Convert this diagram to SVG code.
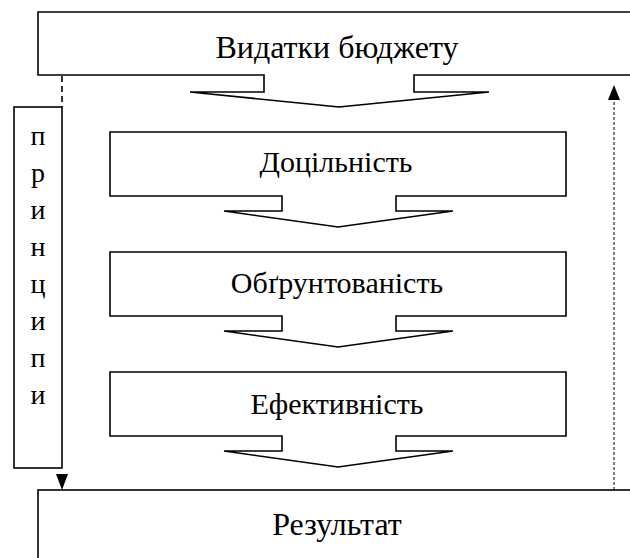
<svg xmlns="http://www.w3.org/2000/svg" width="630" height="558" viewBox="0 0 630 558">
  <defs>
    <style>
      .box { fill: #fff; stroke: #000; stroke-width: 1.6; }
      .lbl { font-family: "Liberation Serif", "DejaVu Serif", serif; font-size: 30px; fill: #000; text-anchor: middle; }
      .big { font-size: 32px; }
      .ltr { font-family: "Liberation Serif", "DejaVu Serif", serif; font-size: 28px; fill: #000; text-anchor: middle; }
      .dash { fill: none; stroke: #000; stroke-width: 1.6; stroke-dasharray: 6 4; }
      .dot { fill: none; stroke: #000; stroke-width: 1; stroke-dasharray: 3 2; }
    </style>
  </defs>
  <rect width="630" height="558" fill="#fff"/>

  <!-- top block with its downward callout -->
  <g id="node-expenditure">
    <path class="box" d="M38,12 H640 V75 H414 V92 H489 L339,107 L190,92 H264 V75 H38 Z"/>
    <text class="lbl big" x="337" y="58">Видатки бюджету</text>
  </g>

  <g id="node-purpose">
    <path class="box" d="M110,132 H566 V196 H396 V211 H453 L338,227 L224,211 H282 V196 H110 Z"/>
    <text class="lbl" x="336" y="172">Доцільність</text>
  </g>

  <g id="node-validity">
    <path class="box" d="M110,252 H566 V316 H396 V331 H453 L338,347 L224,331 H282 V316 H110 Z"/>
    <text class="lbl" x="337" y="293">Обґрунтованість</text>
  </g>

  <g id="node-efficiency">
    <path class="box" d="M110,372 H566 V436 H396 V451 H453 L338,467 L224,451 H282 V436 H110 Z"/>
    <text class="lbl" x="337" y="414">Ефективність</text>
  </g>

  <g id="node-result">
    <rect class="box" x="38" y="490" width="610" height="90"/>
    <text class="lbl big" x="337" y="535">Результат</text>
  </g>

  <g id="node-principles">
    <rect class="box" x="14" y="107" width="48" height="361"/>
    <text class="ltr" x="38" y="145">п</text>
    <text class="ltr" x="38" y="182">р</text>
    <text class="ltr" x="38" y="219">и</text>
    <text class="ltr" x="38" y="256">н</text>
    <text class="ltr" x="38" y="293">ц</text>
    <text class="ltr" x="38" y="330">и</text>
    <text class="ltr" x="38" y="367">п</text>
    <text class="ltr" x="38" y="404">и</text>
  </g>

  <g id="connectors">
    <line class="dash" x1="62" y1="76" x2="62" y2="107"/>
    <path d="M56,474 L68,474 L62,490 Z" fill="#000"/>
    <line class="dot" x1="614" y1="490" x2="614" y2="99"/>
    <path d="M608,100 L620,100 L614,85 Z" fill="#000"/>
  </g>
</svg>
